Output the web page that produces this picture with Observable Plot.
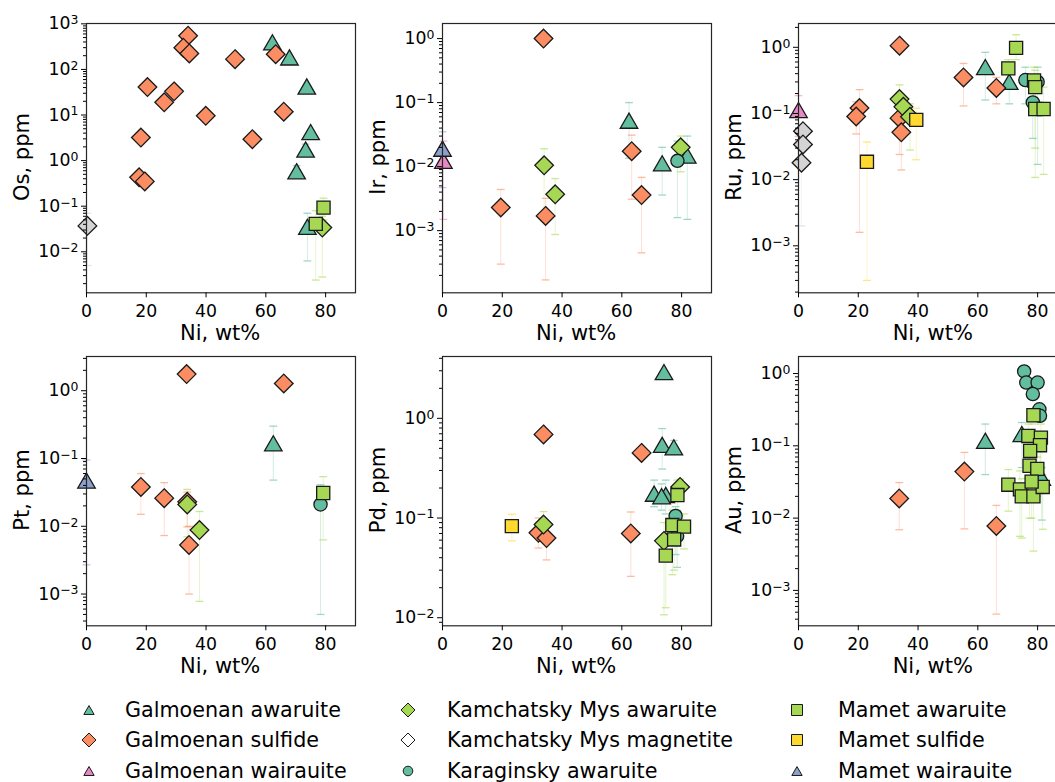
<!DOCTYPE html>
<html><head><meta charset="utf-8">
<script src="https://cdn.jsdelivr.net/npm/d3@7"></script>
<script src="https://cdn.jsdelivr.net/npm/@observablehq/plot@0.6"></script>
<style>
html,body{margin:0;padding:0;background:#fff;}
body{width:1055px;height:782px;overflow:hidden;position:relative;font-family:"DejaVu Sans",sans-serif;color:#000;}
.pnl{position:absolute;}
.lab{position:absolute;font-size:21px;white-space:nowrap;line-height:0.85;}
</style></head><body>
<script>
// ---------- series ----------
const seriesNames = ["Galmoenan awaruite","Galmoenan sulfide","Galmoenan wairauite","Kamchatsky Mys awaruite","Kamchatsky Mys magnetite","Karaginsky awaruite","Mamet awaruite","Mamet sulfide","Mamet wairauite"];
const seriesSymbols = ["triangle","diamond2","triangle","diamond2","diamond2","circle","square","square","triangle"];
const seriesColors = ["#62be9f","#fc8d62","#e78ac3","#a6d854","#d4d4d4","#62be9f","#a6d854","#ffd92f","#8da0cb"];
const legendFills = ["#62be9f","#fc8d62","#e78ac3","#a6d854","#ffffff","#62be9f","#a6d854","#ffd92f","#8da0cb"];

// ---------- axes ----------
const elements = ["Os","Ir","Ru","Pt","Pd","Au"];
const xTicks = [0,20,40,60,80];
const xDomain = [0,90];
const osDecades = [-2,-1,0,1,2,3];
const irDecades = [-3,-2,-1,0];
const ruDecades = [-3,-2,-1,0];
const ptDecades = [-3,-2,-1,0];
const pdDecades = [-2,-1,0];
const auDecades = [-3,-2,-1,0];
const osRange = [0.00126, 1017];
const irRange = [0.000107, 1.72];
const ruRange = [0.000195, 2.29];
const ptRange = [0.00034, 3.2];
const pdRange = [0.0083, 4.17];
const auRange = [0.000324, 1.72];

// ---------- data: [series, Ni wt%, ppm, lower, upper] ----------
const osData = [
 [0,62.2,390],[0,67.9,182],[0,73.7,42],[0,75.0,4.2],[0,73.3,1.74,1.3,2.3],[0,70.3,0.58,0.45,0.78],[0,73.9,0.035,0.0063,0.07],
 [1,34.0,550],[1,32.4,300],[1,34.4,224],[1,49.7,168],[1,20.4,41],[1,29.3,33],[1,26.0,19],[1,39.9,9.6],[1,18.2,3.2],[1,55.5,2.95],[1,17.6,0.43],[1,19.5,0.35],[1,63.3,216],[1,66.0,11.8],
 [3,78.9,0.034,0.0028,0.06],
 [4,0.3,0.037,0.005,0.07],
 [6,79.3,0.093,0.05,0.15],[6,76.7,0.041,0.0024,0.08]
];
const irData = [
 [0,62.4,0.052,0.0135,0.1],[0,73.5,0.0112,0.0036,0.020],[0,81.9,0.0148,0.0015,0.030],
 [1,33.8,1.0],[1,19.5,0.0023,0.0003,0.0044],[1,34.5,0.0017,0.00017,0.0032],[1,63.3,0.0174,0.0031,0.031],[1,66.6,0.0036,0.00045,0.0068],
 [2,0.3,0.0123,0.0015,0.025],
 [3,34.0,0.0105,0.0018,0.019],[3,37.7,0.0037,0.00087,0.0065],[3,79.7,0.020,0.0083,0.030],
 [5,78.6,0.0123,0.0016,0.025],
 [8,0.0,0.019,0.0047,0.035]
];
const ruData = [
 [0,62.5,0.50,0.16,0.84],[0,70.5,0.30,0.14,0.5],
 [1,20.4,0.121,0.0016,0.229],[1,19.3,0.090,0.049,0.15],[1,33.8,1.06],[1,33.8,0.085,0.024,0.15],[1,34.4,0.052,0.014,0.09],[1,55.2,0.35,0.13,0.57],[1,66.2,0.243,0.14,0.35],
 [2,0.0,0.112,0.045,0.186],
 [3,33.8,0.165,0.06,0.27],[3,35.1,0.126],[3,37.3,0.089,0.028,0.14],
 [4,1.5,0.054],[4,1.5,0.034],[4,1.0,0.018,0.002,0.03],
 [5,75.9,0.32,0.14,0.5],[5,78.4,0.147,0.042,0.3],[5,80.0,0.30,0.017,0.5],
 [6,72.8,0.98,0.65,1.55],[6,70.2,0.48,0.3,0.65],[6,78.8,0.315,0.1,0.5],[6,79.2,0.25,0.0108,0.45],[6,79.2,0.117,0.03,0.3],[6,82.0,0.117,0.012,0.25],
 [7,22.9,0.0186,0.0003,0.037],[7,39.4,0.080,0.02,0.12]
];
const ptData = [
 [0,62.5,0.167,0.048,0.30],
 [1,33.5,1.76],[1,66.0,1.28],[1,18.2,0.038,0.015,0.06],[1,26.0,0.026,0.0073,0.044],[1,33.7,0.023,0.0098,0.032],[1,34.3,0.0053,0.001,0.01],
 [3,33.7,0.021,0.007,0.035],[3,37.8,0.0088,0.00078,0.0165],
 [5,78.3,0.021,0.0005,0.041],
 [6,79.2,0.031,0.0063,0.054],
 [8,0.0,0.047,0.0027,0.095]
];
const pdData = [
 [0,74.1,2.9],[0,73.5,0.54,0.31,0.79],[0,77.4,0.51,0.45,0.6],[0,70.8,0.175,0.13,0.24],[0,74.7,0.17,0.11,0.24],[0,73.3,0.165,0.12,0.22],
 [1,33.8,0.69],[1,32.1,0.071,0.05,0.1],[1,34.8,0.063,0.038,0.09],[1,63.0,0.070,0.026,0.115],[1,66.6,0.45],
 [3,33.8,0.086,0.06,0.116],[3,79.5,0.205,0.16,0.245],[3,74.1,0.059,0.0107,0.09],
 [5,78.0,0.105,0.043,0.13],[5,78.5,0.066,0.032,0.1],
 [6,78.6,0.17,0.12,0.24],[6,76.9,0.085,0.027,0.12],[6,80.8,0.082,0.049,0.11],[6,77.5,0.061,0.03,0.1],[6,74.7,0.042,0.0126,0.07],
 [7,23.2,0.083,0.059,0.109]
];
const auData = [
 [0,62.5,0.117,0.040,0.20],[0,74.7,0.145,0.05,0.21],[0,81.4,0.036,0.0094,0.05],
 [1,33.7,0.0187,0.0069,0.031],[1,55.5,0.044,0.0071,0.081],[1,66.2,0.0078,0.00047,0.015],
 [5,75.5,1.07],[5,76.2,0.75],[5,80.0,0.75],[5,78.4,0.52],[5,80.6,0.32],[5,80.8,0.26],
 [6,78.6,0.265,0.2,0.3],[6,76.9,0.137,0.05,0.2],[6,81.1,0.13,0.05,0.2],[6,80.8,0.102,0.04,0.15],[6,77.5,0.085,0.03,0.12],[6,77.3,0.053,0.01,0.08],[6,79.9,0.048,0.02,0.07],[6,70.2,0.029,0.0125,0.047],[6,74.1,0.025,0.0056,0.045],[6,74.7,0.020,0.0053,0.035],[6,78.6,0.020,0.0035,0.035],[6,81.7,0.027,0.007,0.04],[6,78.0,0.032,0.01,0.05]
];

const panelData = {Os:osData, Ir:irData, Ru:ruData, Pt:ptData, Pd:pdData, Au:auData};
const panelDecades = {Os:osDecades, Ir:irDecades, Ru:ruDecades, Pt:ptDecades, Pd:pdDecades, Au:auDecades};
const panelRange = {Os:osRange, Ir:irRange, Ru:ruRange, Pt:ptRange, Pd:pdRange, Au:auRange};

// ---------- layout ----------
const colLeft = [85.7, 441.7, 798.3];
const rowTop = [22.7, 355.7];
const FW = 269, FH = 269.3;
const ML = 80, MR = 12, MT = 12, MB = 34;
const markerR = {triangle:6.5, diamond2:8.4, circle:6.6, square:7.4};
const TICK_FS = 17.3;

elements.forEach((el, i) => {
  const col = i % 3, row = Math.floor(i / 3);
  const rows = panelData[el].map(([s,x,y,lo,hi]) => ({s, x, y, lo: lo ?? y, hi: hi ?? y, hasLo: lo != null, hasHi: hi != null}));
  const errs = rows.filter(d => d.hasLo || d.hasHi);
  const decs = panelDecades[el];
  const [y0, y1] = panelRange[el];
  const majors = decs.map(k => Math.pow(10, k));
  const minors = [];
  for (let k = Math.floor(Math.log10(y0)); k <= Math.ceil(Math.log10(y1)); k++)
    for (let m = 2; m <= 9; m++) { const v = m * Math.pow(10, k); if (v >= y0 && v <= y1) minors.push(v); }

  const marks = [
    Plot.ruleX(errs, {x: "x", y1: "lo", y2: "hi", stroke: d => seriesColors[d.s], strokeOpacity: 0.28, strokeWidth: 1}),
    Plot.link(errs.filter(d => d.hasLo), {x1: d => d.x - 1.3, x2: d => d.x + 1.3, y1: "lo", y2: "lo", stroke: d => seriesColors[d.s], strokeOpacity: 0.6, strokeWidth: 1.3}),
    Plot.link(errs.filter(d => d.hasHi), {x1: d => d.x - 1.3, x2: d => d.x + 1.3, y1: "hi", y2: "hi", stroke: d => seriesColors[d.s], strokeOpacity: 0.6, strokeWidth: 1.3})
  ];
  seriesNames.forEach((nm, s) => {
    const sub = rows.filter(d => d.s === s);
    if (!sub.length) return;
    const sym = seriesSymbols[s];
    marks.push(Plot.dot(sub, {x: "x", y: "y", symbol: sym, r: markerR[sym], fill: seriesColors[s], stroke: "#1a1a1a", strokeWidth: 1.3, dy: sym === "triangle" ? 2.4 : 0}));
  });
  marks.push(
    Plot.frame({stroke: "#262626", strokeWidth: 1.2}),
    Plot.axisX({ticks: xTicks, tickSize: 5, tickPadding: 7, label: null, fontSize: TICK_FS, tickFormat: d => String(d)}),
    Plot.axisY({ticks: minors, tickSize: 3, tickFormat: () => "", label: null}),
    Plot.axisY({ticks: majors, tickSize: 5, tickPadding: 3, label: null, fontSize: TICK_FS,
      tickFormat: d => "10^" + Math.round(Math.log10(d))})
  );

  const chart = Plot.plot({
    width: ML + FW + MR, height: MT + FH + MB,
    marginLeft: ML, marginRight: MR, marginTop: MT, marginBottom: MB,
    x: {domain: xDomain},
    y: {type: "log", domain: [y0, y1]},
    style: {fontFamily: "DejaVu Sans", fontSize: TICK_FS + "px", color: "#000", background: "transparent", overflow: "visible"},
    marks
  });
  // render exponents as real superscripts (mathtext-like)
  d3.select(chart).selectAll("text").each(function() {
    const t = this.textContent;
    if (t.startsWith("10^")) {
      const e = t.slice(3).replace("-", "\u2212");
      const sel = d3.select(this);
      sel.text("10");
      sel.append("tspan").attr("dy", "-0.42em").attr("font-size", "0.72em").text(e);
    }
  });
  chart.classList.add("pnl");
  chart.style.left = (colLeft[col] - ML) + "px";
  chart.style.top = (rowTop[row] - MT) + "px";
  document.body.appendChild(chart);

  const yl = document.createElement("div");
  yl.className = "lab";
  yl.textContent = el + ", ppm";
  yl.style.left = (colLeft[col] - 63) + "px";
  yl.style.top = (rowTop[row] + FH / 2) + "px";
  yl.style.transform = "translate(-50%,-50%) rotate(-90deg)";
  document.body.appendChild(yl);

  const xl = document.createElement("div");
  xl.className = "lab";
  xl.textContent = "Ni, wt%";
  xl.style.left = (colLeft[col] + FW / 2) + "px";
  xl.style.top = (rowTop[row] + FH + 41.5) + "px";
  xl.style.transform = "translate(-50%,-50%)";
  document.body.appendChild(xl);
});

// ---------- legend ----------
const legCols = [89, 408, 797];
const legText = [125, 447, 838];
const legRows = [710, 740, 771];
const legSize = {triangle: 46, diamond2: 125, circle: 72, square: 121};
const symMap = {triangle: d3.symbolTriangle, diamond2: d3.symbolDiamond2, circle: d3.symbolCircle, square: d3.symbolSquare};
const leg = d3.select("body").append("svg")
  .attr("width", 1055).attr("height", 782)
  .style("position", "absolute").style("left", "0px").style("top", "0px").style("pointer-events", "none");
seriesNames.forEach((nm, s) => {
  const c = Math.floor(s / 3), r = s % 3;
  const sym = seriesSymbols[s];
  leg.append("path")
    .attr("d", d3.symbol(symMap[sym], legSize[sym])())
    .attr("transform", `translate(${legCols[c]},${legRows[r] + (sym === "triangle" ? 1.5 : 0)})`)
    .attr("fill", legendFills[s]).attr("stroke", "#1a1a1a").attr("stroke-width", 1);
  leg.append("text")
    .attr("x", legText[c]).attr("y", legRows[r]).attr("dy", "0.36em")
    .attr("font-family", "DejaVu Sans").attr("font-size", 20.7).attr("fill", "#000")
    .text(nm);
});
</script>
</body></html>
